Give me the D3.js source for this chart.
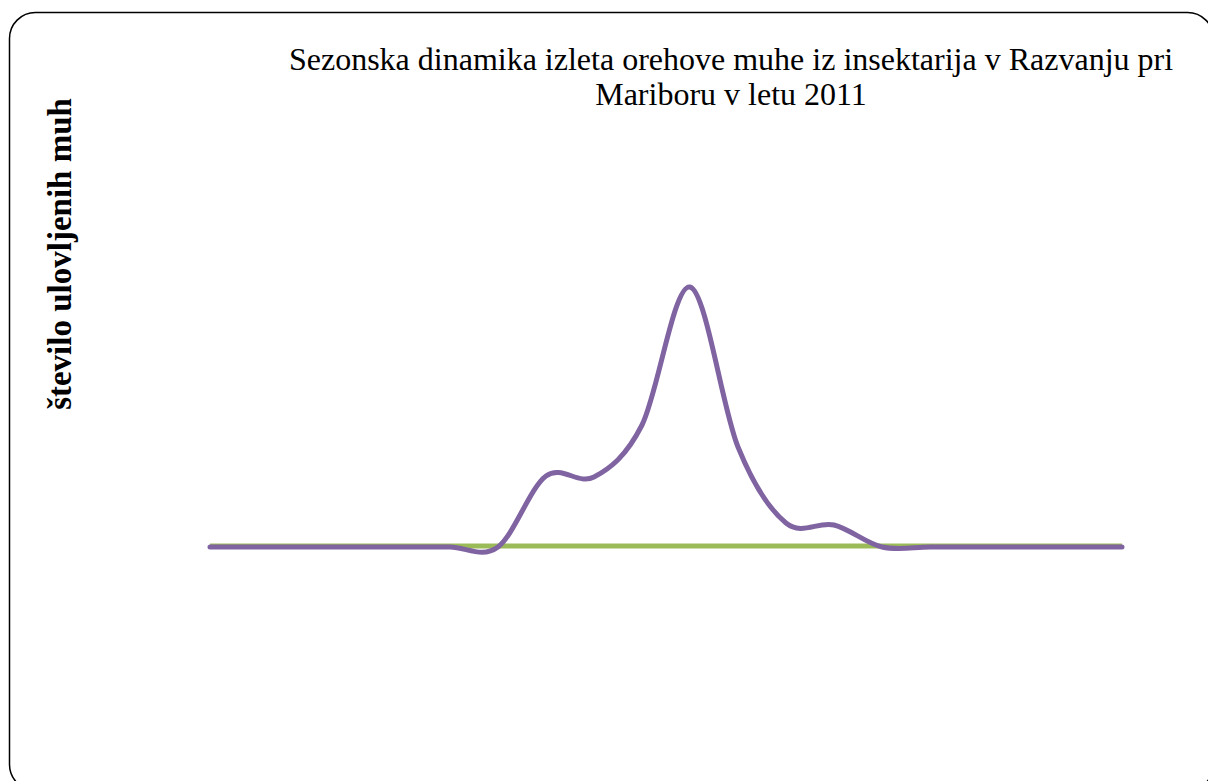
<html>
<head>
	<script src="https://d3js.org/d3.v7.min.js"></script>
	<style>
		body { margin: 0; background: #fff; }
	</style>
</head>
<body>
	<svg width="1208" height="781" id="chart"></svg>
	<script>
		// weekly catches, season 2011
		var dates = ['1.6.', '8.6.', '15.6.', '22.6.', '29.6.', '6.7.', '13.7.', '20.7.', '27.7.', '3.8.',
		             '10.8.', '17.8.', '24.8.', '31.8.', '7.9.', '14.9.', '21.9.', '28.9.', '5.10.', '12.10.'];
		var caught = [0, 0, 0, 0, 0, 0, 0, 7.1, 7.0, 12.2, 26, 10, 2.4, 2.2, 0, 0, 0, 0, 0, 0];
		var control = [0, 0, 0, 0, 0, 0, 0, 0, 0, 0, 0, 0, 0, 0, 0, 0, 0, 0, 0, 0];
		var titleLines = ['Sezonska dinamika izleta orehove muhe iz insektarija v Razvanju pri', 'Mariboru v letu 2011'];
		var yTitle = 'število ulovljenih muh';

		var svg = d3.select('#chart');

		svg.append('rect')
			.attr('x', 9.5)
			.attr('y', 12.5)
			.attr('width', 1204)
			.attr('height', 778)
			.attr('rx', 26)
			.attr('fill', '#fff')
			.attr('stroke', '#000')
			.attr('stroke-width', 1.5);

		var x = d3.scalePoint()
			.domain(dates)
			.range([210, 1122]);

		var y = d3.scaleLinear()
			.domain([-20, 40])
			.range([747, 147]);

		var line = d3.line()
			.x(function (d, i) { return x(dates[i]); })
			.y(function (d) { return y(d); })
			.curve(d3.curveCardinal.tension(0));

		svg.append('path')
			.datum(control)
			.attr('d', line)
			.attr('fill', 'none')
			.attr('stroke', '#9BBB59')
			.attr('stroke-width', 5)
			.attr('transform', 'translate(0,-1)');

		svg.append('path')
			.datum(caught)
			.attr('d', line)
			.attr('fill', 'none')
			.attr('stroke', '#8064A2')
			.attr('stroke-width', 5)
			.attr('stroke-linecap', 'round')
			.attr('stroke-linejoin', 'round');

		svg.selectAll('.title')
			.data(titleLines)
			.enter().append('text')
			.attr('class', 'title')
			.attr('x', 731)
			.attr('y', function (d, i) { return 70 + i * 35; })
			.attr('text-anchor', 'middle')
			.style('font-family', '"Liberation Serif", "Times New Roman", serif')
			.style('font-size', '32px')
			.text(function (d) { return d; });

		svg.append('text')
			.attr('transform', 'translate(71,254) rotate(-90)')
			.attr('text-anchor', 'middle')
			.style('font-family', '"Liberation Serif", "Times New Roman", serif')
			.style('font-size', '33px')
			.style('font-weight', 'bold')
			.text(yTitle);
	</script>
</body>
</html>
